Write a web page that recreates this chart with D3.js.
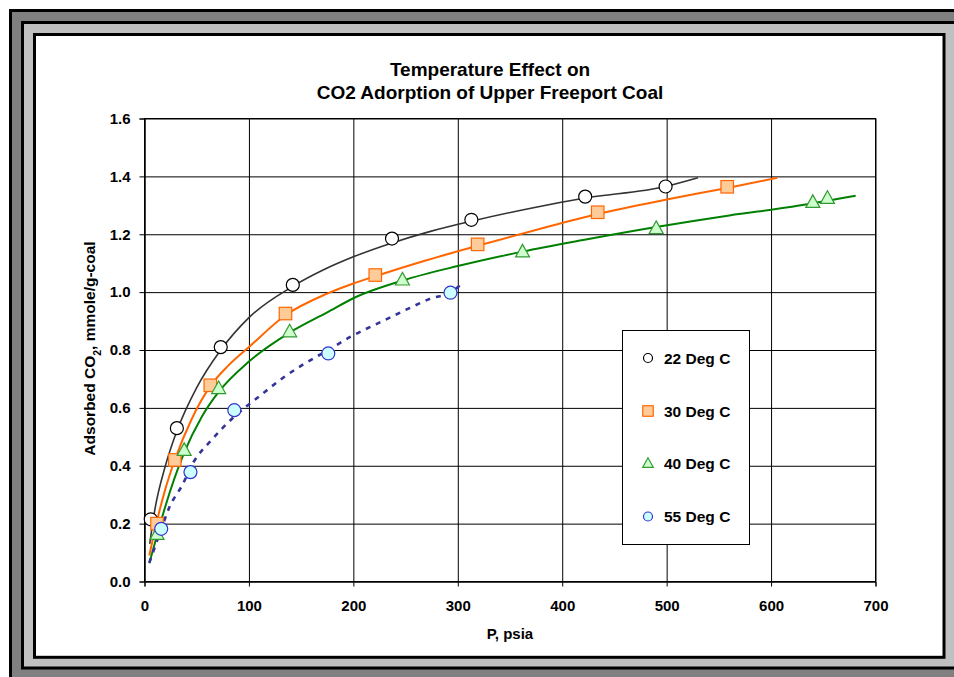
<!DOCTYPE html>
<html><head><meta charset="utf-8">
<script src="https://cdn.jsdelivr.net/npm/d3@7"></script>
<style>body{margin:0;background:#fff}svg{display:block}text{font-family:"Liberation Sans",Arial,sans-serif;font-weight:bold;fill:#000}</style>
</head><body><svg id="c" width="954" height="677"></svg>
<script>
// ---- data ----
const seriesNames = ["22 Deg C", "30 Deg C", "40 Deg C", "55 Deg C"];
const xTicks = [0, 100, 200, 300, 400, 500, 600, 700];
const yTicks = [0.0, 0.2, 0.4, 0.6, 0.8, 1.0, 1.2, 1.4, 1.6];

// measured points
const p22 = [6, 31, 73, 142, 237, 313, 422, 499];
const v22 = [0.215, 0.53, 0.81, 1.025, 1.185, 1.25, 1.33, 1.365];
const p30 = [12, 29, 63, 135, 221, 319, 434, 558];
const v30 = [0.20, 0.42, 0.678, 0.926, 1.059, 1.165, 1.276, 1.364];
const p40 = [12, 38, 71, 139, 247, 362, 490, 640, 654];
const v40 = [0.163, 0.453, 0.667, 0.863, 1.042, 1.139, 1.22, 1.31, 1.324];
const p55 = [16, 44, 86, 176, 293];
const v55 = [0.182, 0.378, 0.592, 0.788, 0.998];

// fitted curves
const fp22 = [5, 10, 20, 31, 50, 73, 100, 142, 172, 200, 237, 273, 313, 370, 422, 499, 530];
const fv22 = [0.13, 0.25, 0.40, 0.52, 0.67, 0.80, 0.912, 1.02, 1.078, 1.122, 1.17, 1.209, 1.245, 1.29, 1.325, 1.365, 1.395];
const fp30 = [4.6, 12, 20, 29, 45, 63, 80, 100, 135, 175, 200, 221, 270, 319, 380, 434, 500, 558, 606];
const fv30 = [0.09, 0.21, 0.32, 0.42, 0.56, 0.675, 0.745, 0.81, 0.92, 0.995, 1.03, 1.055, 1.11, 1.16, 1.22, 1.27, 1.32, 1.36, 1.395];
const fp40 = [4.6, 12, 20, 38, 55, 71, 100, 139, 175, 203, 247, 300, 362, 420, 490, 560, 620, 681];
const fv40 = [0.063, 0.16, 0.26, 0.445, 0.57, 0.655, 0.76, 0.86, 0.93, 0.984, 1.04, 1.09, 1.14, 1.18, 1.225, 1.265, 1.295, 1.333];
const fp55 = [4.6, 15, 24, 36, 47, 64, 86, 110, 133, 152, 176, 197, 231, 258, 274, 293, 302];
const fv55 = [0.065, 0.17, 0.258, 0.332, 0.413, 0.488, 0.57, 0.64, 0.705, 0.75, 0.80, 0.845, 0.905, 0.952, 0.978, 0.998, 1.024];

// ---- drawing ----
const svg = d3.select("#c");
// frame
svg.append("rect").attr("x",10.5).attr("y",10.5).attr("width",1000).attr("height",1000).attr("fill","#808080").attr("stroke","#000").attr("stroke-width",3);
svg.append("rect").attr("x",22.5).attr("y",22.5).attr("width",1000).attr("height",645.5).attr("fill","#c0c0c0").attr("stroke","#000").attr("stroke-width",3);
svg.append("rect").attr("x",34.5).attr("y",34.5).attr("width",909.5).attr("height",622.8).attr("fill","#fff").attr("stroke","#000").attr("stroke-width",3);

const L = 144.5, R = 875.5, T = 118.5, B = 581.5;
const x = d3.scaleLinear().domain([0, 700]).range([L, R]);
const y = d3.scaleLinear().domain([0, 1.6]).range([B, T]);

// grid
const g = svg.append("g");
g.append("g").attr("transform",`translate(0,${B})`)
  .call(d3.axisBottom(x).tickValues(xTicks).tickSize(-(B-T)).tickFormat(""))
  .call(s=>{s.select(".domain").remove(); s.selectAll("line").attr("stroke","#000");});
g.append("g").attr("transform",`translate(${L},0)`)
  .call(d3.axisLeft(y).tickValues(yTicks).tickSize(-(R-L)).tickFormat(""))
  .call(s=>{s.select(".domain").remove(); s.selectAll("line").attr("stroke","#000");});
svg.append("rect").attr("x",L).attr("y",T).attr("width",R-L).attr("height",B-T).attr("fill","none").attr("stroke","#000");

// axes ticks + labels
const xa = svg.append("g").attr("transform",`translate(0,${B})`)
  .call(d3.axisBottom(x).tickValues(xTicks).tickSize(5).tickPadding(14).tickFormat(d3.format("d")));
const ya = svg.append("g").attr("transform",`translate(${L},0)`)
  .call(d3.axisLeft(y).tickValues(yTicks).tickSize(5).tickPadding(9).tickFormat(d3.format(".1f")));
[xa, ya].forEach(a=>{
  a.select(".domain").attr("stroke","#000");
  a.selectAll("line").attr("stroke","#000");
  a.selectAll("text").style("font-size","15px").style("font-family","'Liberation Sans',Arial,sans-serif").style("font-weight","bold").attr("fill","#000");
});

// title
const title = svg.append("text").attr("text-anchor","middle").style("font-size","19px");
title.append("tspan").attr("x",490).attr("y",76).text("Temperature Effect on");
title.append("tspan").attr("x",490).attr("y",98.5).text("CO2 Adorption of Upper Freeport Coal");

// axis titles
svg.append("text").attr("x",(L+R)/2).attr("y",639).attr("text-anchor","middle").style("font-size","15px").text("P, psia");
const yl = svg.append("text").attr("transform","translate(95,348.5) rotate(-90)").attr("text-anchor","middle").style("font-size","15.5px");
yl.append("tspan").text("Adsorbed CO");
yl.append("tspan").attr("baseline-shift","sub").style("font-size","10.5px").text("2");
yl.append("tspan").text(", mmole/g-coal");

// curves
const zip = (a,b)=>a.map((d,i)=>[d,b[i]]);
const line = d3.line().x(d=>x(d[0])).y(d=>y(d[1])).curve(d3.curveMonotoneX);
const curves = [
  {p:fp22, v:fv22, color:"#333333", w:1.6, dash:null},
  {p:fp30, v:fv30, color:"#ff6600", w:2, dash:null},
  {p:fp40, v:fv40, color:"#008000", w:2, dash:null},
  {p:fp55, v:fv55, color:"#333399", w:2.6, dash:"5,6"}
];
curves.forEach(c=>{
  svg.append("path").attr("d", line(zip(c.p,c.v))).attr("fill","none")
    .attr("stroke",c.color).attr("stroke-width",c.w).attr("stroke-dasharray",c.dash);
});

// markers
const styles = [
  {type:"circle", fill:"#ffffff", stroke:"#000000"},
  {type:"square", fill:"#ffcc99", stroke:"#ff6600"},
  {type:"triangle", fill:"#ccffcc", stroke:"#339933"},
  {type:"circle", fill:"#ccffff", stroke:"#3333cc"}
];
function marker(sel, type, size){
  if(type==="circle") return sel.append("circle").attr("r", size/2);
  if(type==="square") return sel.append("rect").attr("x",-size/2).attr("y",-size/2).attr("width",size).attr("height",size);
  const h = size*0.9, w = size;
  return sel.append("path").attr("d",`M0,${-h*0.6}L${w/2},${h*0.4}L${-w/2},${h*0.4}Z`);
}
const pts = [zip(p22,v22), zip(p30,v30), zip(p40,v40), zip(p55,v55)];
pts.forEach((arr,i)=>{
  const st = styles[i];
  arr.forEach(d=>{
    const m = svg.append("g").attr("transform",`translate(${x(d[0])},${y(d[1])})`);
    marker(m, st.type, st.type==="triangle"?14:(st.type==="square"?12.5:13)).attr("fill",st.fill).attr("stroke",st.stroke).attr("stroke-width",1.2);
  });
});

// legend
const lg = svg.append("g");
lg.append("rect").attr("x",622.5).attr("y",330.5).attr("width",127).attr("height",214).attr("fill","#fff").attr("stroke","#000");
const ly = [358, 411, 463.5, 516.5];
seriesNames.forEach((n,i)=>{
  const st = styles[i];
  const m = lg.append("g").attr("transform",`translate(648,${ly[i]})`);
  marker(m, st.type, st.type==="circle"?9:10.5).attr("fill",st.fill).attr("stroke",st.stroke).attr("stroke-width",1.2);
  lg.append("text").attr("x",664).attr("y",ly[i]+5.5).style("font-size","15.5px").text(n);
});
</script></body></html>
